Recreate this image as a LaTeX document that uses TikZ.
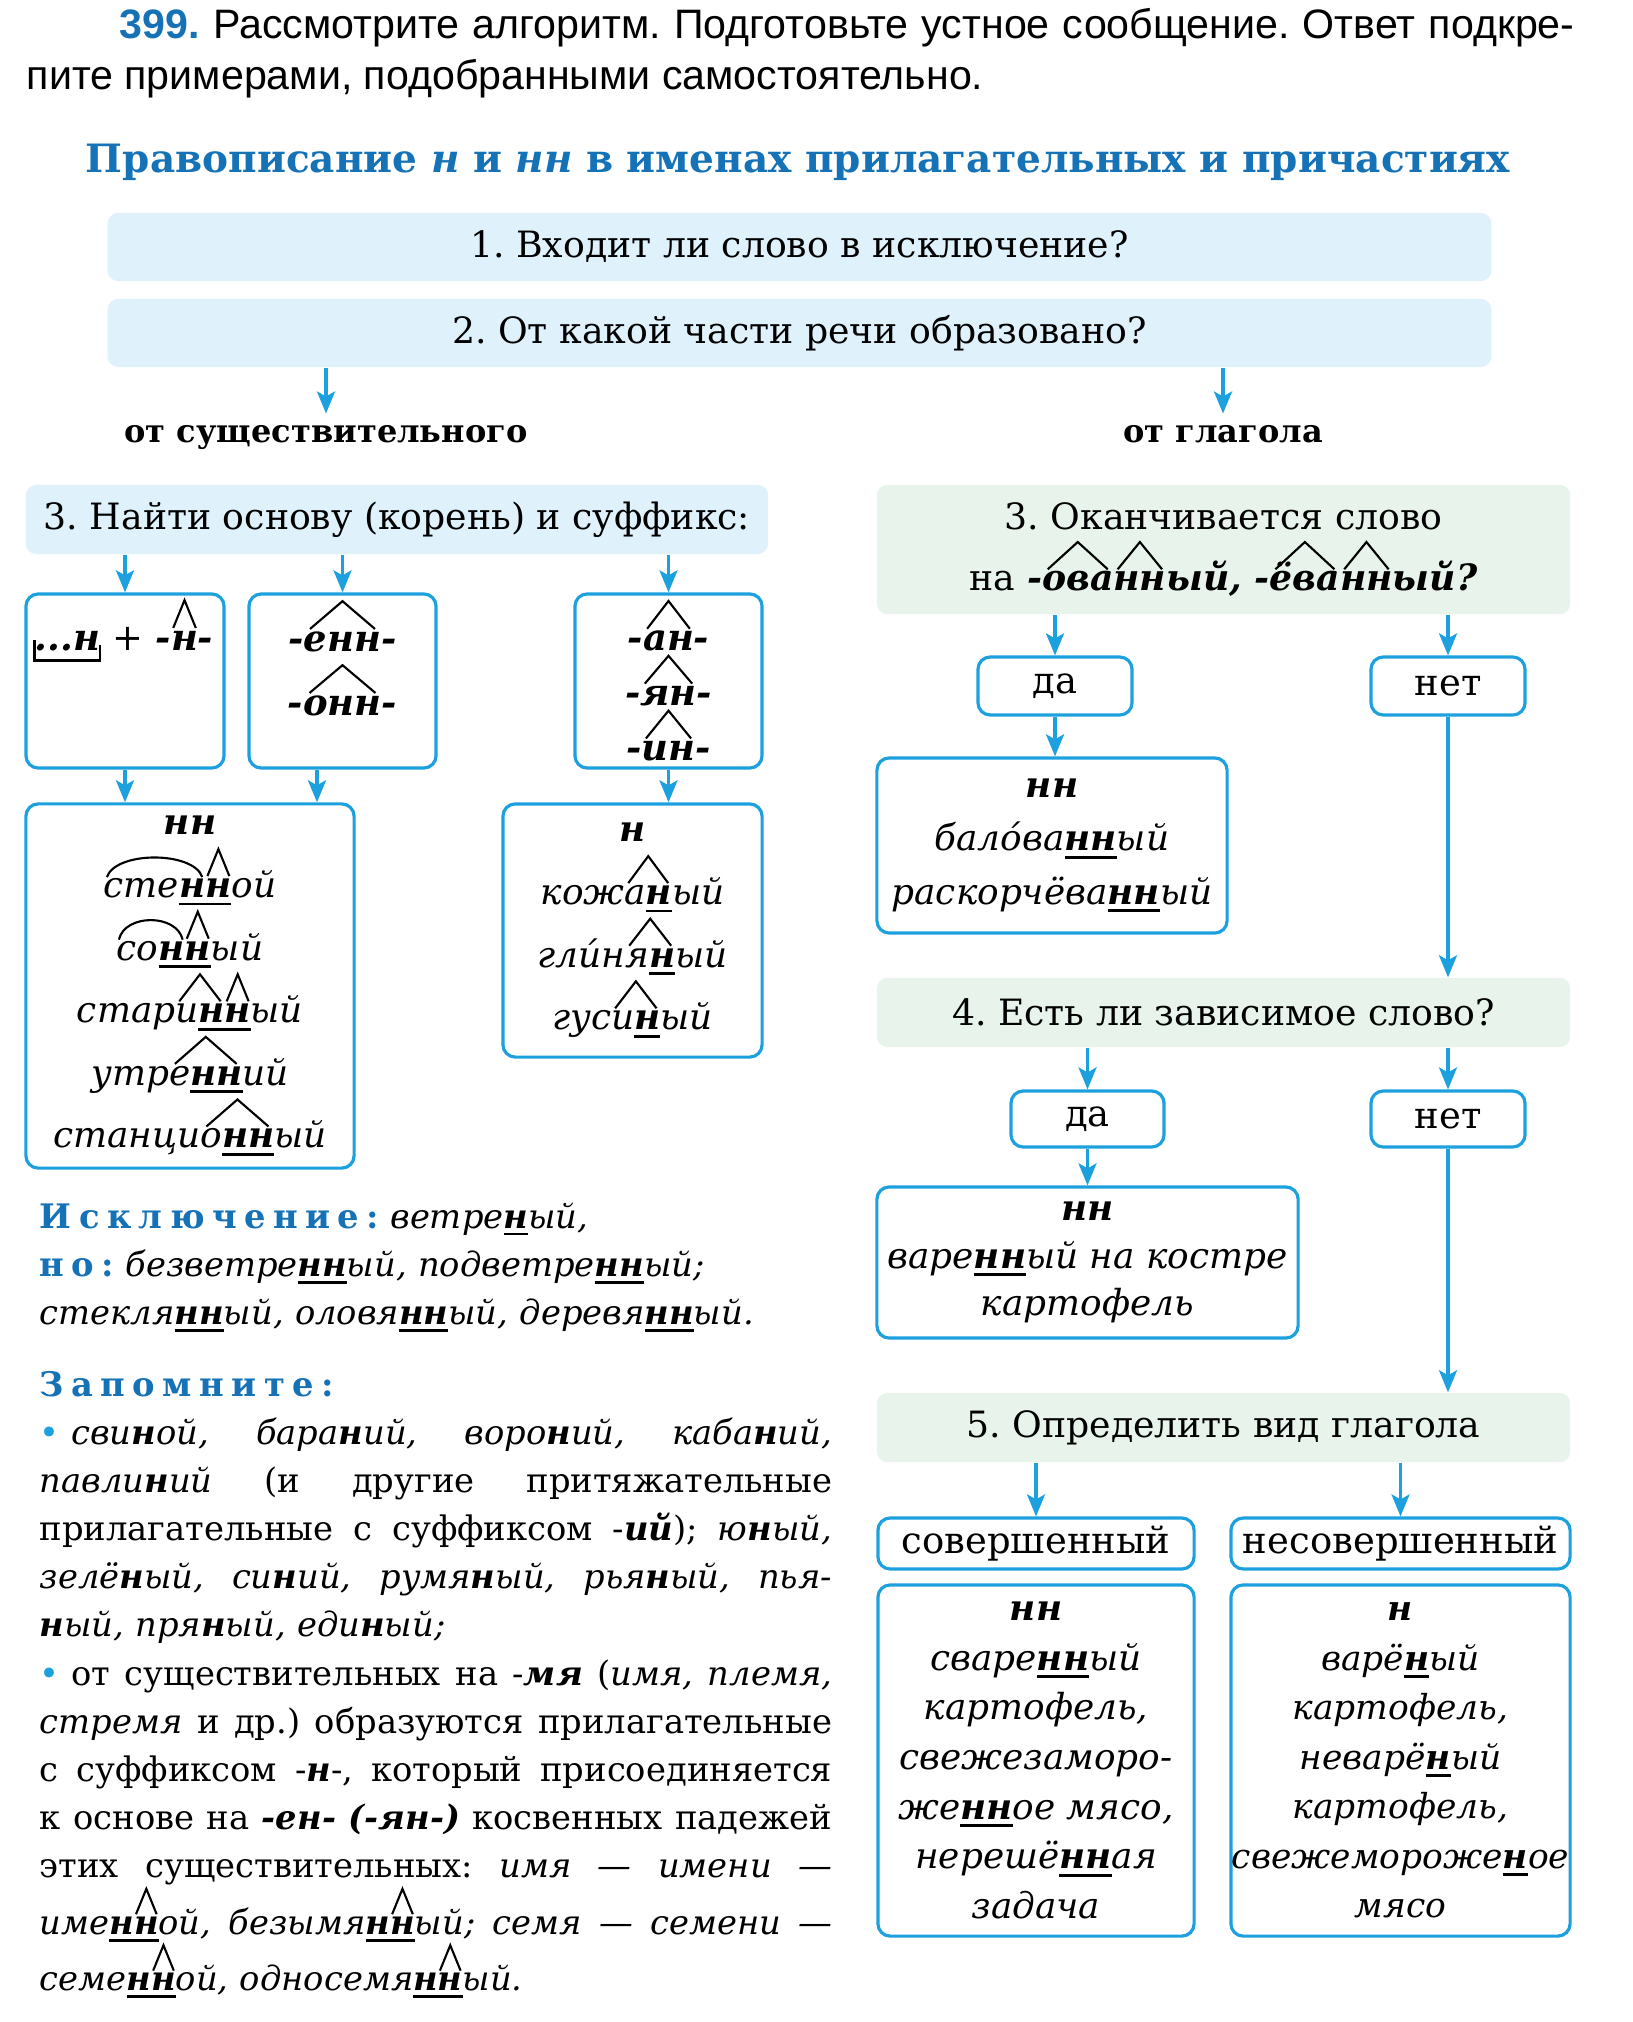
\documentclass[tikz,border=0pt]{standalone}
\usepackage{fontspec}
\setmainfont{DejaVu Serif}
\newfontfamily\zadfont{Liberation Sans}
\newfontfamily\razr[LetterSpace=22]{DejaVu Serif}
\usepackage{xcolor}
\usepackage{tikz}
\usetikzlibrary{arrows.meta,positioning,calc}
\frenchspacing

\definecolor{ramka}{RGB}{28,160,222}
\definecolor{zagolovok}{RGB}{22,114,182}
\definecolor{golub}{RGB}{223,241,251}
\definecolor{zelen}{RGB}{232,243,236}

\newsavebox\metkabox
\newsavebox\podbox
\newlength\metkaw

% жирный курсив
\newcommand\zhk[1]{{\bfseries\itshape #1}}
% буквы н/нн: жирные и подчёркнутые
\newcommand\podch[1]{\sbox\podbox{\bfseries #1}\rlap{\rule[-0.42ex]{\wd\podbox}{0.8pt}}\usebox\podbox}
% суффикс (домик)
\newcommand\suff[1]{\sbox\metkabox{#1}\setlength\metkaw{\wd\metkabox}%
  \rlap{\tikz[overlay,x=\metkaw,y=1ex]\draw[draw=black,line width=.6pt,sharp corners] (0.08,1.15) -- (0.5,2.6) -- (0.92,1.15);}%
  \usebox\metkabox\rule{0pt}{2.6ex}}
% корень (дуга)
\newcommand\koren[1]{\sbox\metkabox{#1}\setlength\metkaw{\wd\metkabox}%
  \rlap{\tikz[overlay,x=\metkaw,y=1ex]\draw[draw=black,line width=.6pt] (0.03,1.1) .. controls (0.12,2.5) and (0.88,2.5) .. (0.97,1.1);}%
  \usebox\metkabox\rule{0pt}{2.5ex}}
% основа (скобка снизу)
\newcommand\osnova[1]{\sbox\metkabox{#1}\setlength\metkaw{\wd\metkabox}%
  \rlap{\tikz[overlay,x=\metkaw,y=1ex]\draw[draw=black,line width=.7pt,sharp corners] (0,0.5) -- (0,-0.55) -- (1,-0.55) -- (1,0.25);}%
  \usebox\metkabox}
% строка по ширине
\newcommand\jline[1]{\makebox[7.92cm][s]{\spaceskip=0.3em plus 2em\relax #1}}
\newcommand\tochka{\textcolor{ramka}{•}\hspace{0.35em}}

\begin{document}
\begin{tikzpicture}[x=0.01cm, y=-0.01cm,
  vopros/.style={fill=golub, rounded corners=3pt, inner sep=0pt,
                 font=\fontsize{10.3}{13}\selectfont},
  glag/.style={fill=zelen, rounded corners=3pt, inner sep=0pt, align=center,
               font=\fontsize{10.3}{17.6}\selectfont},
  ramochka/.style={draw=ramka, line width=0.9pt, rounded corners=3.5pt,
                   inner sep=0pt, align=center},
  otvet/.style={ramochka, font=\fontsize{10.5}{13}\selectfont},
  primer/.style={ramochka, font=\itshape\fontsize{10.2}{17.8}\selectfont},
  vetka/.style={anchor=base, font=\bfseries\fontsize{9.1}{12}\selectfont},
  abzac/.style={anchor=base west, inner sep=0pt, text width=7.92cm, align=left,
                font=\fontsize{9.6}{13.7}\selectfont},
  strelka/.style={draw=ramka, line width=0.9pt,
                  -{Stealth[length=2.2mm,width=1.8mm,inset=0.5mm]}},
]
  \fill[white] (0,0) rectangle (1632,2022);
  \useasboundingbox (0,0) rectangle (1632,2022);

  % Задание и заголовок
  \node[anchor=base west, inner sep=0pt, font=\zadfont\fontsize{11.7}{14}\selectfont] (zadanie1) at (119,39)
    {\makebox[14.54cm][s]{{\bfseries\color{zagolovok}399.} Рассмотрите алгоритм. Подготовьте устное сообщение. Ответ подкре-}};
  \node[anchor=base west, inner sep=0pt, font=\zadfont\fontsize{11.7}{14}\selectfont] (zadanie2) at (26,90)
    {пите примерами, подобранными самостоятельно.};
  \node[anchor=base, inner sep=0pt, font=\bfseries\fontsize{11.1}{14}\selectfont, text=zagolovok] (nazvanie) at (798,173)
    {Правописание \textit{н} и \textit{нн} в именах прилагательных и причастиях};

  % Общие вопросы
  \node[vopros, minimum width=13.83cm, minimum height=0.68cm] (q1) at (799.5,247) {1. Входит ли слово в исключение?};
  \node[vopros, minimum width=13.83cm, minimum height=0.68cm] (q2) at (799.5,333) {2. От какой части речи образовано?};
  \node[vetka] (sush)   at (326,443)  {от существительного};
  \node[vetka] (glagol) at (1223,443) {от глагола};
  \draw[strelka] (q2.south -| sush) -- (sush.north);
  \draw[strelka] (q2.south -| glagol) -- (glagol.north);

  % Ветка: от существительного
  \node[vopros, minimum width=7.42cm, minimum height=0.69cm] (q3s) at (397,519.5) {3. Найти основу (корень) и суффикс:};
  \node[ramochka, minimum width=1.98cm, minimum height=1.74cm] (sufA) at (125,681) {};
  \node[ramochka, minimum width=1.87cm, minimum height=1.74cm] (sufB) at (342.5,681) {};
  \node[ramochka, minimum width=1.87cm, minimum height=1.74cm,
        font=\bfseries\itshape\fontsize{10.5}{15.6}\selectfont] (sufC) at (668.5,681)
    {-\suff{ан}-\\-\suff{ян}-\\-\suff{ин}-};
  \node[anchor=base, text width=1.9cm, align=center, inner sep=0pt,
        font=\bfseries\itshape\fontsize{10.5}{18.2}\selectfont] (tekstA) at (124,650)
    {\osnova{...н} \textup{\mdseries +} -\suff{н}-};
  \node[anchor=base, text width=1.8cm, align=center, inner sep=0pt,
        font=\bfseries\itshape\fontsize{10.5}{18.2}\selectfont] (tekstB) at (342.5,651)
    {-\suff{енн}-\\-\suff{онн}-};
  \draw[strelka] (q3s.south -| sufA.north) -- (sufA.north);
  \draw[strelka] (q3s.south -| sufB.north) -- (sufB.north);
  \draw[strelka] (q3s.south -| sufC.north) -- (sufC.north);

  \node[primer, minimum width=3.28cm, minimum height=3.64cm] (nn) at (190,986)
    {\textbf{нн}\\ \koren{сте\podch{н}}\suff{\podch{н}}ой\\ \koren{со\podch{н}}\suff{\podch{н}}ый\\
     стар\suff{и\podch{н}}\suff{\podch{н}}ый\\ утр\suff{е\podch{нн}}ий\\ станци\suff{о\podch{нн}}ый};
  \node[primer, minimum width=2.59cm, minimum height=2.53cm] (n) at (632.5,930.5)
    {\textbf{н}\\ кож\suff{а\podch{н}}ый\\ гли́н\suff{я\podch{н}}ый\\ гус\suff{и\podch{н}}ый};
  \coordinate (bvyhod) at ($(sufB.south)+(-25.5,0)$);
  \draw[strelka] (sufA.south) -- (sufA.south |- nn.north);
  \draw[strelka] (bvyhod) -- (bvyhod |- nn.north);
  \draw[strelka] (sufC.south) -- (sufC.south |- n.north);

  % Исключения и «Запомните»
  \node[abzac] (iskl) at (39,1228)
    {{\razr\bfseries\color{zagolovok}Исключение:} \textit{ветре\podch{н}ый,}\\
     {\razr\bfseries\color{zagolovok}но:} \textit{безветре\podch{нн}ый, подветре\podch{нн}ый;}\\
     \textit{стекля\podch{нн}ый, оловя\podch{нн}ый, деревя\podch{нн}ый.}};
  \node[abzac] (zapom) at (39,1396)
    {{\razr\bfseries\color{zagolovok}Запомните:}\\
     \jline{\tochka\textit{сви\textbf{н}ой, бара\textbf{н}ий, воро\textbf{н}ий, каба\textbf{н}ий,}}\\
     \jline{\textit{павли\textbf{н}ий} (и другие притяжательные}\\
     \jline{прилагательные с суффиксом -\zhk{ий}); \textit{ю\textbf{н}ый,}}\\
     \jline{\textit{зелё\textbf{н}ый, си\textbf{н}ий, румя\textbf{н}ый, рья\textbf{н}ый, пья-}}\\
     \textit{\textbf{н}ый, пря\textbf{н}ый, еди\textbf{н}ый;}\\
     \jline{\tochka от существительных на -\zhk{мя} (\textit{имя, племя,}}\\
     \jline{\textit{стремя} и др.) образуются прилагательные}\\
     \jline{с суффиксом -\zhk{н}-, который присоединяется}\\
     \jline{к основе на \zhk{-ен- (-ян-)} косвенных падежей}\\
     \jline{этих существительных: \textit{имя — имени —}}\\
     \jline{\textit{име\podch{н}\suff{\podch{н}}ой, безымя\podch{н}\suff{\podch{н}}ый; семя — семени —}}\\
     \textit{семе\podch{н}\suff{\podch{н}}ой, односемя\podch{н}\suff{\podch{н}}ый.}};

  % Ветка: от глагола
  \node[glag, minimum width=6.93cm, minimum height=1.29cm] (q3g) at (1223.5,549.5)
    {3. Оканчивается слово\\на \zhk{-\suff{ова}\suff{нн}ый, -\suff{ёва}\suff{нн}ый?}};
  \node[otvet, minimum width=1.54cm, minimum height=0.58cm] (da1)  at (1055,686) {да};
  \node[otvet, minimum width=1.54cm, minimum height=0.58cm] (net1) at (1448,686) {нет};
  \draw[strelka] (q3g.south -| da1.north) -- (da1.north);
  \draw[strelka] (q3g.south -| net1.north) -- (net1.north);
  \node[primer, font=\itshape\fontsize{10.2}{15.2}\selectfont, minimum width=3.5cm, minimum height=1.75cm] (res1) at (1052,845.5)
    {\textbf{нн}\\ бало́ва\podch{нн}ый\\ раскорчёва\podch{нн}ый};
  \draw[strelka] (da1.south) -- (da1.south |- res1.north);

  \node[glag, minimum width=6.93cm, minimum height=0.69cm] (q4) at (1223.5,1012.5) {4. Есть ли зависимое слово?};
  \draw[strelka] (net1.south) -- (net1.south |- q4.north);
  \node[otvet, minimum width=1.53cm, minimum height=0.56cm] (da2)  at (1087.5,1119) {да};
  \node[otvet, minimum width=1.54cm, minimum height=0.56cm] (net2) at (1448,1119) {нет};
  \draw[strelka] (q4.south -| da2.north) -- (da2.north);
  \draw[strelka] (q4.south -| net2.north) -- (net2.north);
  \node[primer, font=\itshape\fontsize{10.2}{13.5}\selectfont, minimum width=4.21cm, minimum height=1.51cm] (res2) at (1087.5,1262.5)
    {\textbf{нн}\\ варе\podch{нн}ый на костре\\ картофель};
  \draw[strelka] (da2.south) -- (da2.south |- res2.north);

  \node[glag, minimum width=6.93cm, minimum height=0.69cm] (q5) at (1223.5,1427.5) {5. Определить вид глагола};
  \draw[strelka] (net2.south) -- (net2.south |- q5.north);
  \node[otvet, minimum width=3.16cm, minimum height=0.51cm] (sov)   at (1036,1543.5)   {совершенный};
  \node[otvet, minimum width=3.39cm, minimum height=0.51cm] (nesov) at (1400.5,1543.5) {несовершенный};
  \draw[strelka] (q5.south -| sov.north) -- (sov.north);
  \draw[strelka] (q5.south -| nesov.north) -- (nesov.north);
  \node[primer, font=\itshape\fontsize{10.2}{14.1}\selectfont, minimum width=3.16cm, minimum height=3.51cm] (resS) at (1036,1760.5)
    {\textbf{нн}\\ сваре\podch{нн}ый\\ картофель,\\ свежезаморо-\\ же\podch{нн}ое мясо,\\ нерешё\podch{нн}ая\\ задача};
  \node[primer, font=\itshape\fontsize{9.8}{14.1}\selectfont, minimum width=3.39cm, minimum height=3.51cm] (resN) at (1400.5,1760.5)
    {\textbf{н}\\ варё\podch{н}ый\\ картофель,\\ неварё\podch{н}ый\\ картофель,\\ свежемороже\podch{н}ое\\ мясо};
\end{tikzpicture}
\end{document}
